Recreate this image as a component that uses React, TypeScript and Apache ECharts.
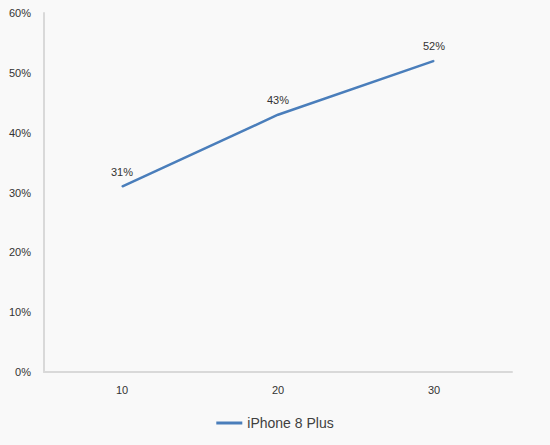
import { useEffect, useRef } from 'react';
import * as echarts from 'echarts';

const categories = ['10', '20', '30'];
const values = [31, 43, 52];
const seriesName = 'iPhone 8 Plus';

export default function App() {
  const chartRef = useRef<HTMLDivElement>(null);

  useEffect(() => {
    if (!chartRef.current) return;
    const chart = echarts.init(chartRef.current, null, { renderer: 'svg' });

    chart.setOption({
      animation: false,
      backgroundColor: '#f9f9f9',
      textStyle: { fontFamily: 'Liberation Sans, Arial, sans-serif' },
      grid: { left: 44, right: 38, top: 13, bottom: 73 },
      legend: {
        bottom: 10,
        left: 'center',
        itemWidth: 26,
        itemHeight: 3,
        itemGap: 4,
        icon: 'rect',
        textStyle: { fontSize: 14, color: '#404040' },
        data: [seriesName]
      },
      xAxis: {
        type: 'category',
        data: categories,
        axisLine: { lineStyle: { color: '#d9d9d9', width: 2 } },
        axisTick: { show: false },
        axisLabel: { color: '#333', fontSize: 11, margin: 12 }
      },
      yAxis: {
        type: 'value',
        min: 0,
        max: 60,
        interval: 10,
        axisLine: { show: true, lineStyle: { color: '#d9d9d9', width: 2 } },
        axisTick: { show: false },
        splitLine: { show: false },
        axisLabel: { color: '#333', fontSize: 11, margin: 13, formatter: '{value}%' }
      },
      series: [
        {
          name: seriesName,
          type: 'line',
          data: values,
          symbol: 'circle',
          symbolSize: 1,
          lineStyle: { color: '#4a7ebb', width: 2.5 },
          itemStyle: { color: '#4a7ebb' },
          label: {
            show: true,
            position: 'top',
            distance: 9,
            formatter: '{c}%',
            color: '#333',
            fontSize: 11
          }
        }
      ]
    });

    return () => {
      chart.dispose();
    };
  }, []);

  return (
    <div
      ref={chartRef}
      style={{ position: 'absolute', left: 0, top: 0, width: '550px', height: '445px' }}
    ></div>
  );
}
